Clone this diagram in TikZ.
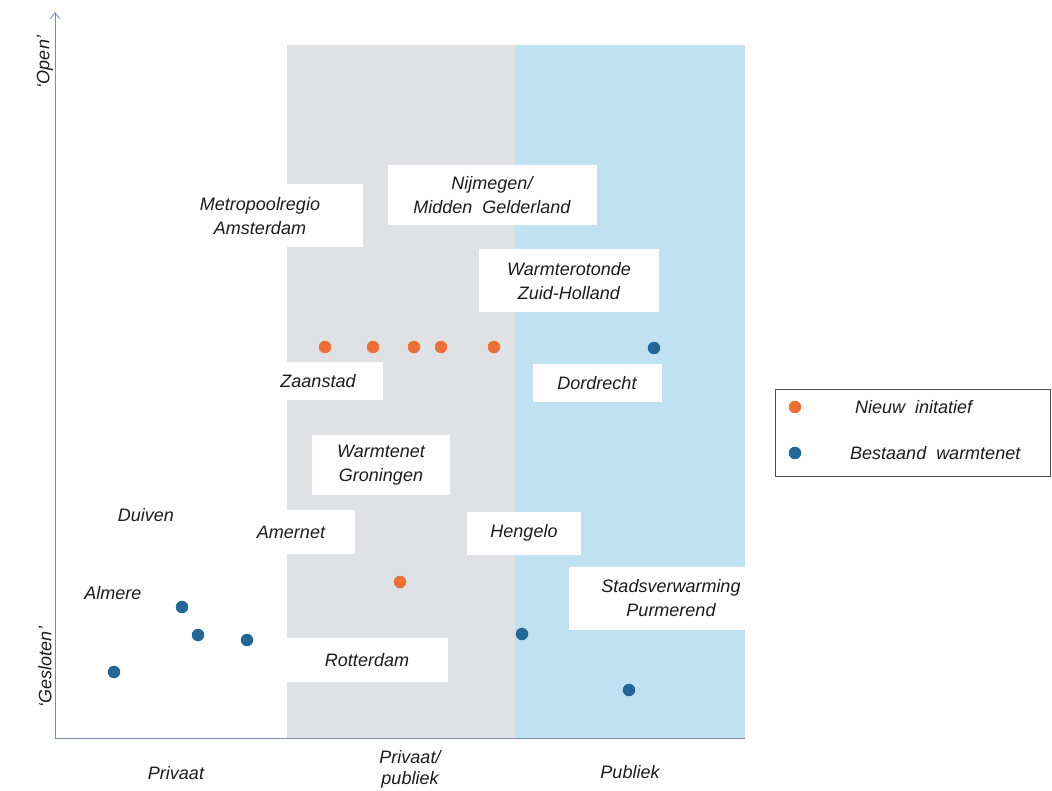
\documentclass[tikz,border=0pt]{standalone}
\usepackage{fontspec}
\setmainfont{Liberation Sans}
\usetikzlibrary{arrows.meta}
\definecolor{grayreg}{RGB}{224,225,228}
\definecolor{bluereg}{RGB}{192,225,241}
\definecolor{dotorange}{RGB}{234,112,56}
\definecolor{dotblue}{RGB}{36,102,150}
\definecolor{axiscol}{RGB}{120,140,178}
\definecolor{txt}{RGB}{28,28,28}
\begin{document}
\begin{tikzpicture}[x=1pt,y=-1pt,
  lbl/.style={font=\fontsize{18}{24}\selectfont\itshape, text=txt, align=center, inner sep=0pt},
  wbox/.style={lbl, fill=white, minimum width=#1},
  dot/.style={circle, minimum size=12.5pt, inner sep=0pt},
  newdot/.style={dot, fill=dotorange},
  olddot/.style={dot, fill=dotblue},
]
\useasboundingbox (0,0) rectangle (1052,791);
\fill[white] (0,0) rectangle (1052,791);
% regions
\fill[grayreg] (287,45) rectangle (515,738);
\fill[bluereg] (515,45) rectangle (745,738);
% axes
\coordinate (origin) at (55,738);
\coordinate (ytop) at (55,12);
\coordinate (xend) at (745,738);
\draw[axiscol, line width=0.8pt, -{Straight Barb[length=6pt,width=9pt]}] (origin) -- (ytop);
\draw[axiscol, line width=0.8pt] (origin) -- (xend);
% white label boxes with text
\node[wbox=206pt, minimum height=63pt] (metro) at (260,216) {Metropoolregio\\Amsterdam};
\node[wbox=209pt, minimum height=60pt] (nijm) at (492,195) {Nijmegen/\\Midden\ \ Gelderland};
\node[wbox=180pt, minimum height=63pt] (wzh) at (569,281) {Warmterotonde\\Zuid-Holland};
\node[wbox=130pt, minimum height=38pt] (zaan) at (318,381) {Zaanstad};
\node[wbox=129pt, minimum height=37pt] (dord) at (597,383) {Dordrecht};
\node[wbox=138pt, minimum height=60pt] (gron) at (381,465) {Warmtenet\\Groningen};
\node[wbox=128pt, minimum height=44pt] (amer) at (291,532) {Amernet};
\node[wbox=114pt, minimum height=43pt] (heng) at (524,533) {Hengelo};
\node[wbox=204pt, minimum height=63pt] (purm) at (671,598) {Stadsverwarming\\Purmerend};
\node[wbox=162pt, minimum height=44pt] (rott) at (367,660) {Rotterdam};
\node[lbl] (duiv) at (146,515) {Duiven};
\node[lbl] (alme) at (113,593) {Almere};
% dots
\node[newdot] (o1) at (325,347) {};
\node[newdot] (o2) at (373,347) {};
\node[newdot] (o3) at (414,347) {};
\node[newdot] (o4) at (441,347) {};
\node[newdot] (o5) at (494,347) {};
\node[newdot] (o6) at (400,582) {};
\node[olddot] (b1) at (654,348) {};
\node[olddot] (b2) at (182,607) {};
\node[olddot] (b3) at (198,635) {};
\node[olddot] (b4) at (247,640) {};
\node[olddot] (b5) at (114,672) {};
\node[olddot] (b6) at (522,634) {};
\node[olddot] (b7) at (629,690) {};
% axis labels
\node[lbl] (xl1) at (176,773) {Privaat};
\node[lbl, font=\fontsize{18}{21}\selectfont\itshape] (xl2) at (410,769) {Privaat/\\publiek};
\node[lbl] (xl3) at (630,772) {Publiek};
\node[lbl, rotate=90] (yl1) at (45,62) {`Open'};
\node[lbl, rotate=90] (yl2) at (45,667) {`Gesloten'};
% legend
\draw[black!70, line width=0.6pt] (775,389) rectangle (1050,476);
\node[newdot] (lg1) at (795,407) {};
\node[olddot] (lg2) at (795,453) {};
\node[lbl, anchor=west] (lt1) at (855,407) {Nieuw\ \ initatief};
\node[lbl, anchor=west] (lt2) at (850,453) {Bestaand\ \ warmtenet};
\end{tikzpicture}
\end{document}
